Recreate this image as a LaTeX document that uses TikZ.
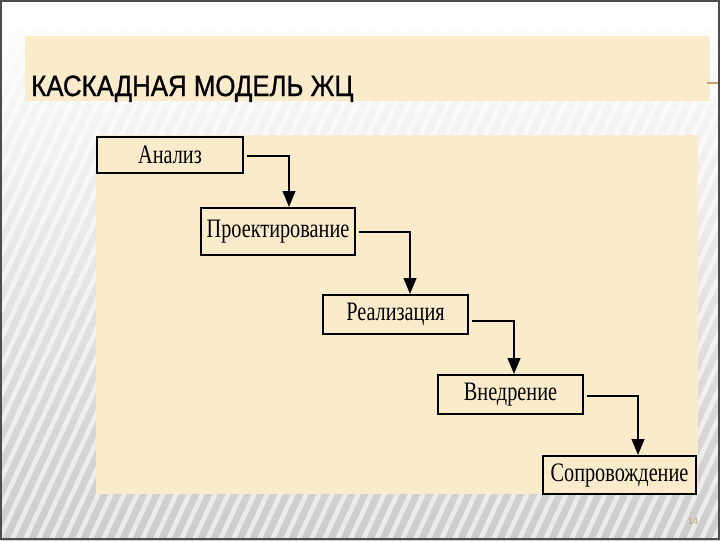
\documentclass[tikz,border=0pt]{standalone}
\usepackage{fontspec}
\setmainfont{Liberation Serif}
\newfontfamily\titlefont[FakeStretch=0.88,FakeBold=1]{Liberation Sans}
\newfontfamily\smallfont{Liberation Sans}
\newfontfamily\boxfont[FakeStretch=0.76]{Liberation Serif}
\usetikzlibrary{arrows.meta}
\definecolor{beige}{RGB}{250,236,202}
\definecolor{pgnum}{RGB}{200,160,110}
\begin{document}
\begin{tikzpicture}[x=0.75pt,y=-0.75pt,
  stage/.style={draw=black, line width=1.5pt, fill=beige, inner sep=0pt,
    font=\boxfont\fontsize{20}{22}\selectfont},
  flow/.style={line width=1.5pt, -{Triangle[width=9.5pt,length=12pt]}}]
\useasboundingbox (0,0) rectangle (720,540);
% background
\begin{scope}
\clip (0,0) rectangle (720,540);
\shade[top color=white, middle color=black!4, bottom color=black!20] (0,0) rectangle (720,540);
\foreach \i in {-300,-287,...,720}
  \draw[white, opacity=0.6, line width=3.5pt] (\i,540) -- (\i+250,0);
\fill[white] (0,0) rectangle (720,30);
\end{scope}
\draw[black!70, line width=1.5pt] (1,1) rectangle (719,539);
% title band and panel
\fill[beige] (25,36) rectangle (710,101);
\fill[beige] (96,135) rectangle (698,494);
\draw[pgnum, line width=1pt] (707,83) -- (718,83);
\node[anchor=base west, inner sep=0pt, text=black, font=\titlefont\fontsize{22}{24}\selectfont] (title) at (31,96) {КАСКАДНАЯ МОДЕЛЬ ЖЦ};
% stages
\node[stage, minimum width=109.5pt, minimum height=27pt] (a) at (170,155) {Анализ};
\node[stage, minimum width=115.5pt, minimum height=35.25pt] (b) at (278,231.5) {Проектирование};
\node[stage, minimum width=108.75pt, minimum height=29.25pt] (c) at (395.5,314.5) {Реализация};
\node[stage, minimum width=108.75pt, minimum height=29.25pt] (d) at (510.5,394.5) {Внедрение};
\node[stage, minimum width=114.75pt, minimum height=28.5pt] (e) at (619.5,475) {Сопровождение};
% connectors
\draw[flow] ([shift={(3,1)}]a.east) -| ([shift={(11,0)}]b.north);
\draw[flow] ([shift={(3,0.5)}]b.east) -| ([shift={(14.5,0)}]c.north);
\draw[flow] ([shift={(3,6.5)}]c.east) -| ([shift={(3.5,0)}]d.north);
\draw[flow] ([shift={(3,1.5)}]d.east) -| ([shift={(18.5,0)}]e.north);
% page number
\node[inner sep=0pt, text=pgnum, font=\smallfont\fontsize{7}{8}\selectfont] (pg) at (693,521) {14};
\end{tikzpicture}
\end{document}
